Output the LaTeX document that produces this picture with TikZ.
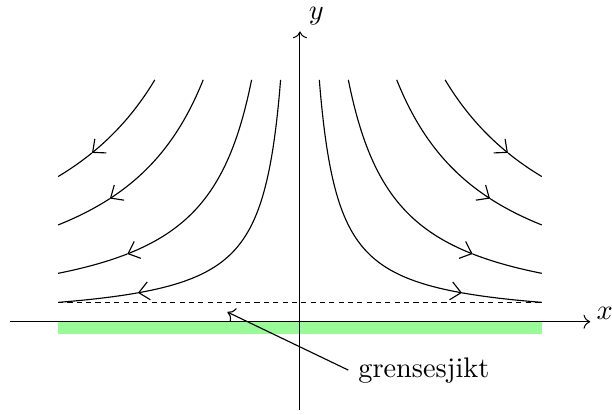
\documentclass[tikz,border=0pt]{standalone}
\usetikzlibrary{arrows.meta}
\definecolor{bandgreen}{RGB}{152,251,152}
\begin{document}
\begin{tikzpicture}[x=0.6cm,y=0.6cm,
  axis/.style={->,line width=0.35pt},
  stream/.style={samples=150,smooth},
  streamtip/.style={-{Straight Barb[length=3.6pt,width=6.4pt]}},
  band/.style={fill=bandgreen},
  wall/.style={dash pattern=on 1.8pt off 1.5pt}]
\useasboundingbox (-6.2,-1.92) rectangle (6.45,6.65);
\fill[band] (-5,-0.25) rectangle (5,0);
\coordinate (xs) at (-6,0);
\coordinate (xe) at (6,0);
\coordinate (ys) at (0,-1.82);
\coordinate (ye) at (0,6);
\draw[axis] (xs) -- (xe);
\draw[axis] (ys) -- (ye);
\node (xl) at (6.3,0.17) {$x$};
\node (yl) at (0.34,6.31) {$y$};
\coordinate (wl) at (-5,0.4);
\coordinate (wr) at (5,0.4);
\draw[wall] (wl) -- (wr);
\foreach \c/\a in {2/3.35,5/3.57,10/3.93,15/4.3}{
  \draw[stream,streamtip] plot[domain=\c/5:\a] (\x,{\c/\x});
  \draw[stream] plot[domain=\a:5] (\x,{\c/\x});
  \draw[stream,streamtip] plot[domain=-\c/5:-\a] (\x,{-\c/\x});
  \draw[stream] plot[domain=-\a:-5] (\x,{-\c/\x});
}
\node[right] (lbl) at (1,-1) {grensesjikt};
\coordinate (bl) at (-1.5,0.2);
\draw[->] (lbl.west) -- (bl);
\end{tikzpicture}
\end{document}
